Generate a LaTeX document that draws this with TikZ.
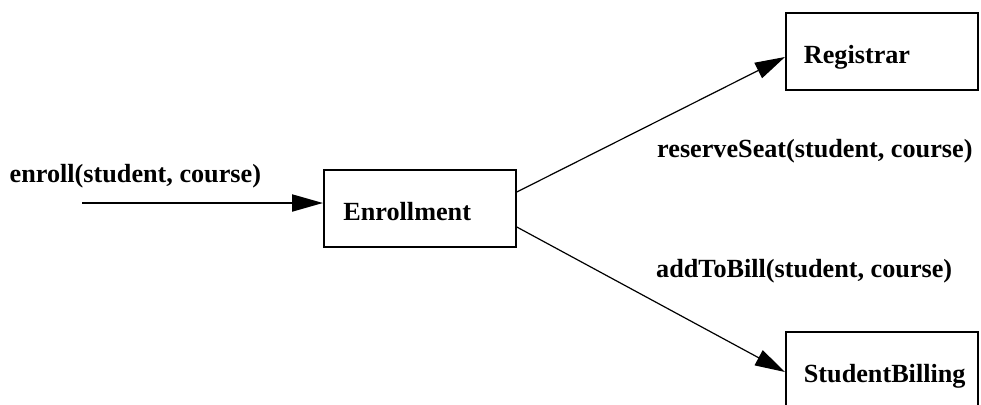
\documentclass[tikz,border=0pt]{standalone}
\usepackage{fontspec}
\setmainfont{Liberation Serif}
\usetikzlibrary{arrows.meta}

% left-aligned box label of fixed width; longer text may run past the right edge
\newcommand{\boxlabel}[1]{\hbox to 156pt{#1\hss}}

\tikzset{
  classbox/.style={draw, line width=1.8pt, anchor=north west,
    inner xsep=18pt, inner ysep=0pt, text height=51pt, text depth=26pt,
    font=\fontsize{26.2pt}{30pt}\selectfont\bfseries},
  msglabel/.style={anchor=base west, inner sep=0pt,
    font=\fontsize{26.2pt}{30pt}\selectfont\bfseries},
  msgarrow/.style={line width=1.2pt,
    -{Triangle[length=30pt, width=17pt]}},
  inarrow/.style={line width=2pt,
    -{Triangle[length=31pt, width=17pt]}}
}

\begin{document}
\begin{tikzpicture}[x=1pt, y=-1pt]
  \useasboundingbox (0,0) rectangle (981,404);
  \clip (0,0) rectangle (981,404);

  % classes
  \node[classbox, inner xsep=19.5pt, text width=153pt] (enr) at (323,169) {\boxlabel{Enrollment}};
  \node[classbox] (reg) at (785,12) {\boxlabel{Registrar}};
  \node[classbox] (bill) at (785,331) {\boxlabel{StudentBilling}};

  % message labels
  \node[msglabel] (lenroll) at (9.5,182) {enroll(student, course)};
  \node[msglabel] (lreserve) at (657,157) {reserveSeat(student, course)};
  \node[msglabel] (lbill) at (656,277) {addToBill(student, course)};

  % attachment heights of the connectors
  \coordinate (start) at (82,203);
  \coordinate (upfrom) at (0,192);
  \coordinate (upto) at (0,57);
  \coordinate (downfrom) at (0,227);
  \coordinate (downto) at (0,372);

  % connectors
  \draw[inarrow] (start) -- (enr.west |- start);
  \draw[msgarrow] (enr.east |- upfrom) -- (reg.west |- upto);
  \draw[msgarrow] (enr.east |- downfrom) -- (bill.west |- downto);
\end{tikzpicture}
\end{document}
